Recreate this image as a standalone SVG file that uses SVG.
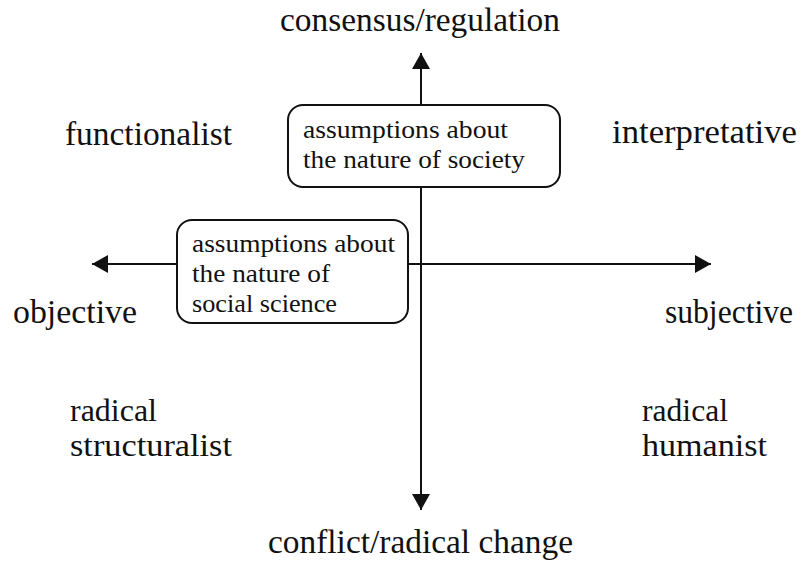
<svg xmlns="http://www.w3.org/2000/svg" width="802" height="565" viewBox="0 0 802 565">
  <style>
    .label { font-family: "Liberation Serif", "Times New Roman", serif; font-size: 33px; fill: #111; }
    .stack { font-size: 31px; }
    .boxtext { font-family: "Liberation Serif", "Times New Roman", serif; font-size: 26px; fill: #111; }
    .box { fill: #fff; stroke: #111; stroke-width: 2; }
    .axis { stroke: #111; stroke-width: 2; fill: none; marker-end: url(#head); }
  </style>
  <defs>
    <marker id="head" markerUnits="userSpaceOnUse" markerWidth="18" markerHeight="18" viewBox="0 0 16 18" refX="16" refY="9" orient="auto">
      <path d="M0,0 L16,9 L0,18 Z" fill="#111"/>
    </marker>
  </defs>

  <!-- axes -->
  <g id="connectors">
    <line class="axis" x1="421" y1="106" x2="421" y2="53"/>
    <line class="axis" x1="421" y1="187" x2="421" y2="510"/>
    <line class="axis" x1="178" y1="264" x2="92" y2="264"/>
    <line class="axis" x1="408" y1="264" x2="711" y2="264"/>
  </g>

  <g id="box-society">
    <rect class="box" x="288" y="105" width="272" height="82" rx="15"/>
    <text class="boxtext" x="303" y="138" textLength="205" lengthAdjust="spacingAndGlyphs">assumptions about</text>
    <text class="boxtext" x="303" y="168" textLength="222" lengthAdjust="spacingAndGlyphs">the nature of society</text>
  </g>

  <g id="box-science">
    <rect class="box" x="177" y="220" width="231" height="103" rx="15"/>
    <text class="boxtext" x="192" y="252" textLength="203" lengthAdjust="spacingAndGlyphs">assumptions about</text>
    <text class="boxtext" x="192" y="282" textLength="138" lengthAdjust="spacingAndGlyphs">the nature of</text>
    <text class="boxtext" x="192" y="312" textLength="145" lengthAdjust="spacingAndGlyphs">social science</text>
  </g>

  <g id="top-label"><text class="label" x="280" y="31" textLength="280" lengthAdjust="spacingAndGlyphs">consensus/regulation</text></g>
  <g id="bottom-label"><text class="label" x="268" y="553" textLength="305" lengthAdjust="spacingAndGlyphs">conflict/radical change</text></g>
  <g id="left-label"><text class="label" x="13" y="323" textLength="124" lengthAdjust="spacingAndGlyphs">objective</text></g>
  <g id="right-label"><text class="label" x="665" y="323" textLength="128" lengthAdjust="spacingAndGlyphs">subjective</text></g>

  <g id="functionalist"><text class="label" x="65" y="145" textLength="167" lengthAdjust="spacingAndGlyphs">functionalist</text></g>
  <g id="interpretative"><text class="label" x="612" y="143" textLength="185" lengthAdjust="spacingAndGlyphs">interpretative</text></g>
  <g id="radical-structuralist">
    <text class="label stack" x="70" y="421" textLength="87" lengthAdjust="spacingAndGlyphs">radical</text>
    <text class="label stack" x="70" y="456" textLength="162" lengthAdjust="spacingAndGlyphs">structuralist</text>
  </g>
  <g id="radical-humanist">
    <text class="label stack" x="642" y="421" textLength="86" lengthAdjust="spacingAndGlyphs">radical</text>
    <text class="label stack" x="642" y="456" textLength="125" lengthAdjust="spacingAndGlyphs">humanist</text>
  </g>
</svg>
